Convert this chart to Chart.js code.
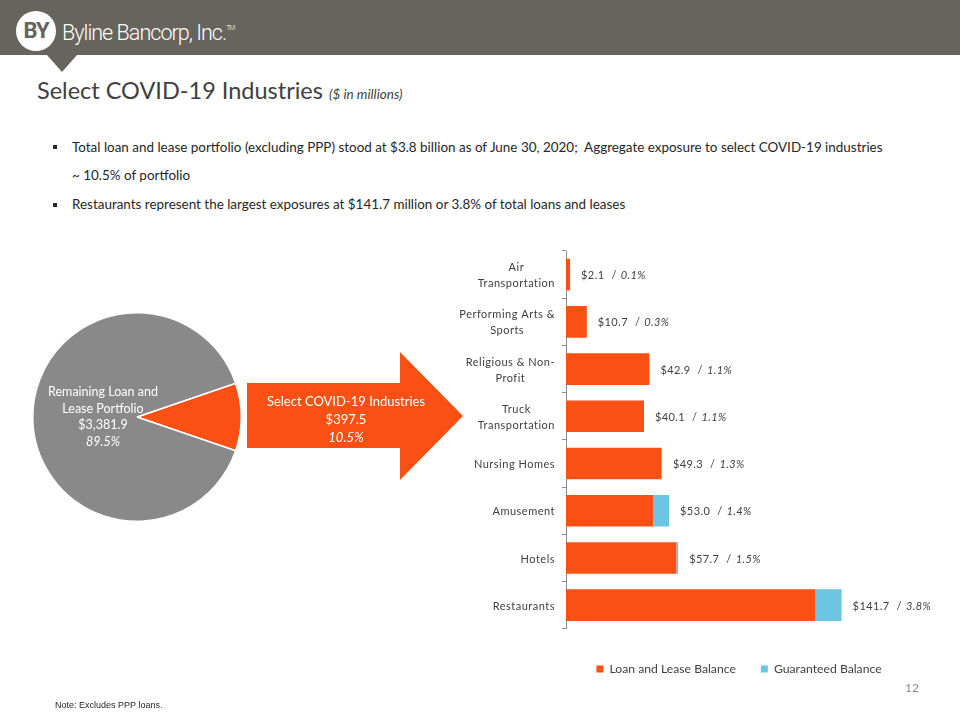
<!DOCTYPE html>
<html>
<head>
<meta charset="utf-8">
<script src="https://cdn.jsdelivr.net/npm/chart.js@4.4.1/dist/chart.umd.min.js"></script>
<style>
  html, body { margin: 0; padding: 0; background: #fff; }
  #slide { position: relative; width: 960px; height: 720px; overflow: hidden; font-family: Lato, "Open Sans", sans-serif; color: #262626; }
  .hdr { position: absolute; left: 0; top: 0; width: 960px; height: 55px; background: #67635d; }
  .notch { position: absolute; left: 47px; top: 55px; width: 0; height: 0;
           border-left: 15px solid transparent; border-right: 15px solid transparent; border-top: 17px solid #67635d; }
  .logo { position: absolute; left: 16px; top: 11px; width: 40px; height: 40px; border-radius: 50%; background: #fff;
          color: #67635d; font: bold 22px "Liberation Sans Narrow", "Roboto", sans-serif; line-height: 40px; text-align: center; letter-spacing: -1px; }
  .brand { position: absolute; left: 62px; top: 14px; color: #fff; font: 300 22px Roboto, sans-serif; line-height: 28px;
           letter-spacing: -1px; transform: scaleX(0.98); transform-origin: left center; white-space: nowrap; }
  .brand sup { font-size: 7px; vertical-align: 10px; }
  .title { position: absolute; left: 37px; top: 76px; font-size: 23.5px; line-height: 28px; color: #404040; white-space: nowrap; }
  .title i { font-size: 13.5px; }
  .bul { position: absolute; left: 72px; font-size: 13.45px; line-height: 28px; color: #262626; white-space: nowrap; }
  .sq { position: absolute; left: 53px; width: 4px; height: 4px; background: #262626; }
  .pielbl { position: absolute; left: 43px; top: 384px; width: 120px; text-align: center; color: #fff; font-size: 12.5px; line-height: 16.7px; }
  .arrowtxt { position: absolute; left: 256px; top: 392px; width: 180px; text-align: center; color: #fff; font-size: 13px; line-height: 18px; }
  .pgnum { position: absolute; left: 905px; top: 680px; font-size: 12px; color: #8c8c8c; }
  .note { position: absolute; left: 55px; top: 700px; font: 9px "Liberation Sans Narrow", sans-serif; color: #262626; }
  canvas { position: absolute; }
</style>
</head>
<body>
<div id="slide">
  <div class="hdr"></div>
  <div class="notch"></div>
  <div class="logo">BY</div>
  <div class="brand">Byline Bancorp, Inc.<sup>TM</sup></div>
  <div class="title">Select COVID-19 Industries <i>($ in millions)</i></div>

  <div class="sq" style="top:145px"></div>
  <div class="bul" style="top:133px">Total loan and lease portfolio (excluding PPP) stood at $3.8 billion as of June 30, 2020;&nbsp; Aggregate exposure to select COVID-19 industries</div>
  <div class="bul" style="top:161px">~ 10.5% of portfolio</div>
  <div class="sq" style="top:203px"></div>
  <div class="bul" style="top:190px">Restaurants represent the largest exposures at $141.7 million or 3.8% of total loans and leases</div>

  <canvas id="pie" width="210" height="210" style="left:32px; top:312px"></canvas>
  <div class="pielbl">Remaining Loan and Lease Portfolio<br>$3,381.9<br><i>89.5%</i></div>

  <svg style="position:absolute; left:0; top:0" width="960" height="720">
    <polygon points="247,383 400,383 400,352 463,416 400,480 400,448 247,448" fill="#fa5013"/>
  </svg>
  <div class="arrowtxt">Select COVID-19 Industries<br>$397.5<br><i>10.5%</i></div>

  <canvas id="bars" width="515" height="445" style="left:440px; top:240px"></canvas>

  <div class="pgnum">12</div>
  <div class="note">Note: Excludes PPP loans.</div>
</div>

<script>
/* portfolio split ($ in millions) */
const pieLabels = ["Select COVID-19 Industries", "Remaining Loan and Lease Portfolio"];
const pieValues = [397.5, 3381.9];

/* industries, top to bottom */
const industries = [["Air", "Transportation"], ["Performing Arts &", "Sports"], ["Religious & Non-", "Profit"],
  ["Truck", "Transportation"], "Nursing Homes", "Amusement", "Hotels", "Restaurants"];
const loanBalance = [2.1, 10.7, 42.9, 40.1, 49.0, 44.8, 56.7, 128.3];
const guaranteedBalance = [0, 0, 0, 0, 0.3, 8.2, 1.0, 13.4];
const totalLabels = ["$2.1", "$10.7", "$42.9", "$40.1", "$49.3", "$53.0", "$57.7", "$141.7"];
const pctLabels = ["0.1%", "0.3%", "1.1%", "1.1%", "1.3%", "1.4%", "1.5%", "3.8%"];

const ORANGE = "#fa5013", BLUE = "#6cc3e2", GREY = "#898989", TXT = "#404040";
const FONT = "Lato, 'Open Sans', sans-serif";

// orange wedge centred on 3 o'clock
const share = pieValues[0] / (pieValues[0] + pieValues[1]);
new Chart(document.getElementById("pie"), {
  type: "pie",
  data: { labels: pieLabels,
    datasets: [{ data: pieValues, backgroundColor: [ORANGE, GREY], borderColor: "#fff", borderWidth: 1.5 }] },
  options: {
    responsive: false, animation: false, devicePixelRatio: 1,
    rotation: 90 - 180 * share,
    plugins: { legend: { display: false }, tooltip: { enabled: false } },
  },
});

/* category labels: block right-aligned, lines centred within the block (Excel style) */
const yLabels = {
  id: "yLabels",
  afterDraw(chart) {
    const { ctx, chartArea, scales: { y } } = chart;
    ctx.save();
    ctx.font = "11px " + FONT;
    ctx.letterSpacing = "0.5px";
    ctx.fillStyle = TXT;
    ctx.textBaseline = "middle";
    ctx.textAlign = "center";
    industries.forEach((lab, i) => {
      const lines = Array.isArray(lab) ? lab : [lab];
      const w = Math.max(...lines.map(l => ctx.measureText(l).width));
      const cx = chartArea.left - 11 - w / 2;
      const cy = y.getPixelForValue(i) + 1;
      lines.forEach((l, k) => ctx.fillText(l, cx, cy + (k - (lines.length - 1) / 2) * 16));
    });
    ctx.restore();
  },
};

/* "$x.x / y.y%" after each bar */
const barLabels = {
  id: "barLabels",
  afterDatasetsDraw(chart) {
    const { ctx, scales: { x, y } } = chart;
    ctx.save();
    ctx.fillStyle = TXT;
    ctx.textBaseline = "middle";
    ctx.textAlign = "left";
    ctx.letterSpacing = "0.4px";
    industries.forEach((_, i) => {
      let px = x.getPixelForValue(loanBalance[i] + guaranteedBalance[i]) + 11;
      const py = y.getPixelForValue(i) + 1;
      ctx.font = "11px " + FONT;
      ctx.fillText(totalLabels[i], px, py);
      px += ctx.measureText(totalLabels[i]).width + 7;
      ctx.fillText("/", px, py);
      px += ctx.measureText("/").width + 4;
      ctx.font = "italic 11px " + FONT;
      ctx.fillText(pctLabels[i], px, py);
    });
    ctx.restore();
  },
};

new Chart(document.getElementById("bars"), {
  type: "bar",
  data: {
    labels: industries.map(l => Array.isArray(l) ? l.join(" ") : l),
    datasets: [
      { label: "Loan and Lease Balance", data: loanBalance, backgroundColor: ORANGE, borderWidth: 0,
        barPercentage: 0.67, categoryPercentage: 1 },
      { label: "Guaranteed Balance", data: guaranteedBalance, backgroundColor: BLUE, borderWidth: 0,
        barPercentage: 0.67, categoryPercentage: 1 },
    ],
  },
  options: {
    indexAxis: "y", responsive: false, animation: false, devicePixelRatio: 1,
    layout: { padding: { top: 11, left: 83, right: 0, bottom: 0 } },
    plugins: {
      tooltip: { enabled: false },
      legend: { position: "bottom",
        labels: { boxWidth: 7, boxHeight: 7, padding: 25, color: TXT, font: { family: FONT, size: 12.2 } } },
    },
    scales: {
      x: { stacked: true, min: 0, max: 200,
        ticks: { display: false }, grid: { display: false }, border: { display: false },
        afterFit: s => { s.height = 9; } },
      y: { stacked: true, offset: true,
        ticks: { display: false },
        grid: { drawOnChartArea: false, drawTicks: true, tickLength: 4, color: "#8c8c8c", offset: true },
        border: { color: "#8c8c8c" },
        afterFit: s => { s.width = 43; } },
    },
  },
  plugins: [yLabels, barLabels],
});
</script>
</body>
</html>
